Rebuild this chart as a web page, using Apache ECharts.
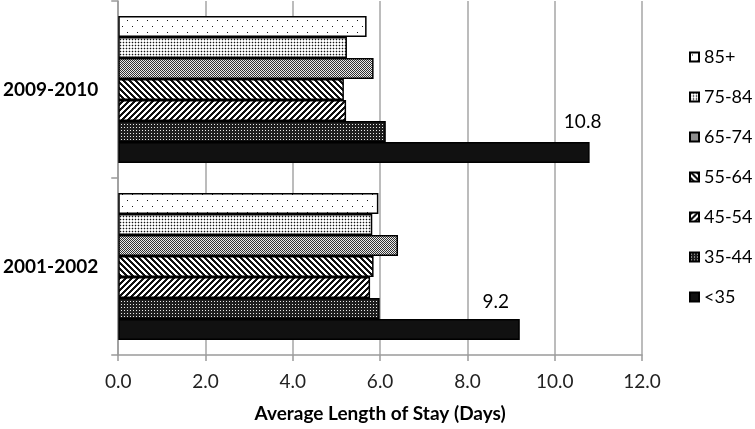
<!DOCTYPE html>
<html><head><meta charset="utf-8">
<script src="https://cdn.jsdelivr.net/npm/echarts@6/dist/echarts.min.js"></script>
<style>html,body{margin:0;padding:0;background:#fff}#c{width:755px;height:429px}</style>
</head><body><div id="c"></div>
<script>
// ---- data ----
const categories = ['2001-2002', '2009-2010'];
const legendOrder = ['85+', '75-84', '65-74', '55-64', '45-54', '35-44', '<35'];
const values_lt35 = [9.2, 10.8];
const values_35_44 = [5.99, 6.13];
const values_45_54 = [5.77, 5.22];
const values_55_64 = [5.85, 5.17];
const values_65_74 = [6.41, 5.85];
const values_75_84 = [5.82, 5.24];
const values_85plus = [5.96, 5.69];
const xTickValues = [0, 2, 4, 6, 8, 10, 12];
const xTickLabels = ['0.0', '2.0', '4.0', '6.0', '8.0', '10.0', '12.0'];
const axisTitle = 'Average Length of Stay (Days)';

// ---- patterns ----
function makePattern(w, h, fn) {
  const c = document.createElement('canvas');
  c.width = w; c.height = h;
  const ctx = c.getContext('2d');
  const img = ctx.createImageData(w, h);
  for (let y = 0; y < h; y++) for (let x = 0; x < w; x++) {
    const v = fn(x, y);
    const i = (y * w + x) * 4;
    img.data[i] = v; img.data[i + 1] = v; img.data[i + 2] = v; img.data[i + 3] = 255;
  }
  ctx.putImageData(img, 0, 0);
  return { image: c, repeat: 'repeat' };
}
const FONT = 'Lato';
const patterns = {
  '85+': makePattern(10, 12, (x, y) => ((x === 2 && y === 2) || (x === 7 && y === 8)) ? 20 : 255),
  '75-84': makePattern(3, 3, (x, y) => (x === 0 && y === 0) ? 20 : (x === 0 || y === 0) ? 200 : 255),
  '65-74': makePattern(2, 2, (x, y) => ((x + y) % 2 === 0) ? 50 : 235),
  '55-64': makePattern(6, 6, (x, y) => ((((x - y) % 6) + 6) % 6 < 3) ? 17 : 255),
  '45-54': makePattern(6, 6, (x, y) => ((x + y) % 6 < 3) ? 17 : 255),
  '35-44': makePattern(3, 3, (x, y) => (x === 1 && y === 1) ? 235 : 30),
  '<35': '#111111'
};

const seriesValues = {
  '<35': values_lt35, '35-44': values_35_44, '45-54': values_45_54, '55-64': values_55_64,
  '65-74': values_65_74, '75-84': values_75_84, '85+': values_85plus
};
const labelOffsets = [[-24, -8], [-7, -11]];

const series = legendOrder.map(name => {
  const vals = seriesValues[name];
  const s = {
    name: name, type: 'bar', barGap: '0%', barCategoryGap: '17%',
    itemStyle: { color: patterns[name], borderColor: '#000', borderWidth: 1.5 },
    emphasis: { disabled: true },
    data: vals.slice()
  };
  if (name === '<35') {
    s.data = vals.map((v, i) => ({
      value: v,
      label: {
        show: true, position: ['100%', 0], align: 'center', verticalAlign: 'bottom',
        offset: labelOffsets[i], formatter: v.toFixed(1),
        fontFamily: FONT, fontSize: 19, color: '#000'
      }
    }));
  }
  return s;
});

const chart = echarts.init(document.getElementById('c'), null, { renderer: 'canvas' });
chart.setOption({
  animation: false,
  backgroundColor: '#fff',
  grid: { left: 118, right: 113, top: 1, bottom: 74, containLabel: false },
  legend: {
    orient: 'vertical', left: 684, top: 42,
    data: legendOrder, icon: 'rect', itemWidth: 9, itemHeight: 9, itemGap: 20,
    textStyle: { fontFamily: FONT, fontSize: 18, color: '#000', lineHeight: 20 },
    selectedMode: false
  },
  xAxis: {
    type: 'value', min: xTickValues[0], max: xTickValues[xTickValues.length - 1],
    interval: xTickValues[1] - xTickValues[0],
    name: axisTitle, nameLocation: 'middle', nameGap: 49,
    nameTextStyle: { fontFamily: FONT, fontSize: 19, fontWeight: 'bold', color: '#000' },
    axisLine: { show: true, lineStyle: { color: '#9a9a9a', width: 1.5 } },
    axisTick: { show: true, length: 6, lineStyle: { color: '#9a9a9a', width: 1.5 } },
    splitLine: { show: true, lineStyle: { color: '#a6a6a6', width: 1.5 } },
    axisLabel: {
      margin: 17, fontFamily: FONT, fontSize: 19, color: '#222',
      formatter: v => xTickLabels[xTickValues.indexOf(v)] ?? v.toFixed(1)
    }
  },
  yAxis: {
    type: 'category', data: categories,
    axisLine: { show: true, lineStyle: { color: '#9a9a9a', width: 1.5 } },
    axisTick: { show: true, length: 7, lineStyle: { color: '#9a9a9a', width: 1.5 } },
    axisLabel: { margin: 20, fontFamily: FONT, fontSize: 19, fontWeight: 'bold', color: '#000' }
  },
  series: series
});
</script>
</body></html>
